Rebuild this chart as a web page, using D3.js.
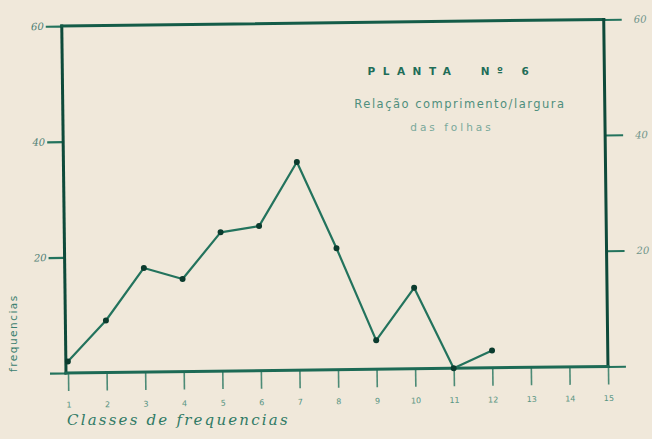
<!DOCTYPE html>
<html><head><meta charset="utf-8">
<script src="https://cdn.jsdelivr.net/npm/d3@7"></script>
<style>
html,body{margin:0;padding:0;background:#f0e8da;}
svg{display:block;}
</style></head>
<body>
<svg id="chart" width="652" height="439"></svg>
<script>
const classes = [1,2,3,4,5,6,7,8,9,10,11,12,13,14,15];
const dataClasses = [1,2,3,4,5,6,7,8,9,10,11,12];
const frequencias = [2,9,18,16,24,25,36,21,5,14,0,3];
const yTicks = [0,20,40,60];
const yTickLabels = ["", "20", "40", "60"];
const title = "PLANTA  Nº 6";
const subtitle1 = "Relação comprimento/largura";
const subtitle2 = "das folhas";
const xTitle = "Classes de frequencias";
const yTitle = "frequencias";

const svg = d3.select("#chart");
const W = 540, H = 347;
const axisColor = "#0e4a3a", lineColor = "#23735d", textColor = "#3b8672";

svg.append("rect").attr("width",652).attr("height",439).attr("fill","#f0e8da");

const g = svg.append("g").attr("transform","translate(68,373) rotate(-0.7)");
const x = d3.scaleLinear().domain([1,15]).range([0,W]);
const y = d3.scaleLinear().domain([0,60]).range([0,-H]);

// x axis ticks
const xa = g.append("g").call(d3.axisBottom(x).tickValues(classes).tickSize(18).tickFormat(d3.format("d")));
xa.select(".domain").remove();
xa.selectAll(".tick line").attr("stroke",lineColor).attr("stroke-width",1.6).attr("opacity",0.8);
xa.selectAll(".tick text").attr("fill",textColor).attr("font-size",8).attr("font-family","DejaVu Sans").attr("dy","1.7em").attr("opacity",0.85);

// left y axis
const ya = g.append("g").attr("transform","translate(-2,0)")
  .call(d3.axisLeft(y).tickValues(yTicks).tickSize(16).tickFormat((d,i)=>yTickLabels[i]));
ya.select(".domain").remove();
ya.selectAll(".tick line").attr("stroke",lineColor).attr("stroke-width",2.2);
ya.selectAll(".tick text").attr("fill","#4e7f74").attr("font-size",10).attr("font-style","italic").attr("font-family","DejaVu Serif").attr("dx","0.1em");

// right y axis
const yr = g.append("g").attr("transform",`translate(${W},0)`)
  .call(d3.axisRight(y).tickValues(yTicks).tickSize(18).tickFormat((d,i)=>yTickLabels[i]));
yr.select(".domain").remove();
yr.selectAll(".tick line").attr("stroke",lineColor).attr("stroke-width",2);
yr.selectAll(".tick text").attr("fill","#6f948a").attr("font-size",10).attr("font-style","italic").attr("font-family","DejaVu Serif").attr("dx","0.9em");

// frame
const frame = g.append("g").attr("stroke",axisColor).attr("stroke-width",3).attr("fill","none").attr("stroke-linecap","square");
frame.append("line").attr("x1",-2).attr("y1",y(0)).attr("x2",-2).attr("y2",y(60));
frame.append("line").attr("x1",-2).attr("y1",y(60)).attr("x2",x(15)).attr("y2",y(60)).attr("stroke","#145c48");
frame.append("line").attr("x1",x(15)).attr("y1",y(60)).attr("x2",x(15)).attr("y2",y(0));
frame.append("line").attr("x1",-2).attr("y1",y(0)).attr("x2",x(15)).attr("y2",y(0)).attr("stroke","#1d6a55");

// data line
const pts = dataClasses.map((c,i)=>[c,frequencias[i]]);
g.append("path").datum(pts)
  .attr("fill","none").attr("stroke",lineColor).attr("stroke-width",2.2).attr("stroke-linejoin","round")
  .attr("d", d3.line().x(d=>x(d[0])).y(d=>y(d[1])));
g.selectAll("circle.pt").data(pts).enter().append("circle")
  .attr("cx",d=>x(d[0])).attr("cy",d=>y(d[1])).attr("r",3).attr("fill","#0b3b2e");

// titles
svg.append("text").attr("x",452).attr("y",75).attr("text-anchor","middle")
  .attr("font-family","DejaVu Sans").attr("font-weight","bold").attr("font-size",10.5)
  .attr("letter-spacing",7.5).style("white-space","pre")
  .attr("fill","#1f6d58").text(title);
svg.append("text").attr("x",460).attr("y",108).attr("text-anchor","middle")
  .attr("font-family","DejaVu Sans").attr("font-size",11.5).attr("letter-spacing",1.5).attr("fill","#4f8f7d").text(subtitle1);
svg.append("text").attr("x",452).attr("y",131).attr("text-anchor","middle")
  .attr("font-family","DejaVu Sans").attr("font-size",10.5).attr("fill","#7aa89a").attr("letter-spacing",3).text(subtitle2);

svg.append("text").attr("x",67).attr("y",425)
  .attr("font-family","DejaVu Serif").attr("font-style","italic").attr("font-size",15)
  .attr("fill","#2f7a65").attr("letter-spacing",2.2).text(xTitle);
svg.append("text").attr("transform","translate(17,372) rotate(-90)")
  .attr("font-family","DejaVu Sans").attr("font-size",10.5).attr("fill","#3b8070").attr("letter-spacing",1.5).text(yTitle);
</script>
</body></html>
